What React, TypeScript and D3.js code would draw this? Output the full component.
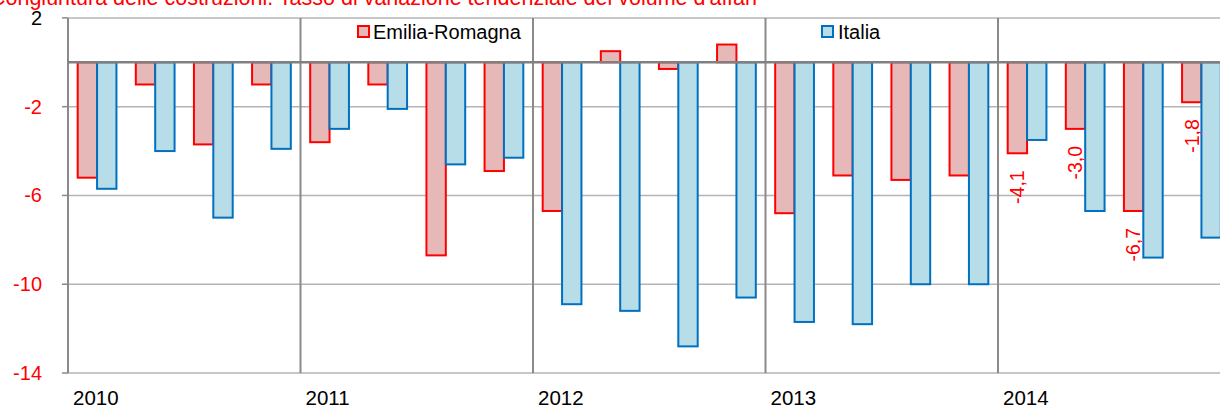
import React from "react";
import * as d3 from "d3";

const title = "Congiuntura delle costruzioni. Tasso di variazione tendenziale del volume d'affari";
const years = ["2010", "2011", "2012", "2013", "2014"];
const quarters = years.flatMap(y => ["I", "II", "III", "IV"].map(q => y + " " + q));
const seriesNames = ["Emilia-Romagna", "Italia"];
const emilia = [-5.2, -1.0, -3.7, -1.0, -3.6, -1.0, -8.7, -4.9, -6.7, 0.5, -0.3, 0.8, -6.8, -5.1, -5.3, -5.1, -4.1, -3.0, -6.7, -1.8];
const italia = [-5.7, -4.0, -7.0, -3.9, -3.0, -2.1, -4.6, -4.3, -10.9, -11.2, -12.8, -10.6, -11.7, -11.8, -10.0, -10.0, -3.5, -6.7, -8.8, -7.9];
// only the last four Emilia-Romagna values carry a label
const labelled = ["2014 I", "2014 II", "2014 III", "2014 IV"];
const yTicks = [2, -2, -6, -10, -14];

export default function App() {
    const width = 1220;
    const height = 407;
    const left = 68;
    const right = 1230.5;
    const top = 17.9;
    const bottom = 373;

    const font = "Arial, 'Liberation Sans', sans-serif";
    const erFill = "#e6b9b8", erStroke = "#ff0000";
    const itFill = "#b7dde8", itStroke = "#0070c0";

    const x = d3.scaleBand().domain(quarters).range([left, right]).paddingInner(1 / 3).paddingOuter(1 / 6);
    const xYear = d3.scaleBand().domain(years).range([left, right]);
    const y = d3.scaleLinear().domain([-14, 2]).range([bottom, top]);
    const bw = x.bandwidth() / 2;

    const bar = (v: number) => ({ y: Math.min(y(v), y(0)), h: Math.abs(y(v) - y(0)) });

    return (
        <div style={{ position: "absolute", left: 0, top: 0 }}>
            <svg width={width} height={height} style={{ display: "block" }} fontFamily={font}>
                <rect width={width} height={height} fill="#fff" />
                <text x={757} y={5} textAnchor="end" fontSize={21.5} fill="#ff0000">{title}</text>

                {/* horizontal gridlines */}
                {yTicks.map(t => (
                    <line key={"g" + t} x1={left} x2={right} y1={y(t)} y2={y(t)} stroke="#b4b4b4" strokeWidth={1.5} />
                ))}
                {/* year separators */}
                {years.slice(1).map(yr => (
                    <line key={"v" + yr} x1={xYear(yr)} x2={xYear(yr)} y1={top} y2={bottom} stroke="#8a8a8a" strokeWidth={2} />
                ))}
                <line x1={left} x2={left} y1={top} y2={bottom} stroke="#8a8a8a" strokeWidth={2} />
                {yTicks.map(t => (
                    <line key={"t" + t} x1={left - 6} x2={left} y1={y(t)} y2={y(t)} stroke="#8a8a8a" strokeWidth={1.5} />
                ))}
                {yTicks.map(t => (
                    <text key={"l" + t} x={42} y={y(t) + 7} textAnchor="end" fontSize={20} fill={t === 2 ? "#000" : "#ff0000"}>{t}</text>
                ))}

                {/* bars */}
                {quarters.map((q, i) => {
                    const a = bar(emilia[i]);
                    const b = bar(italia[i]);
                    const x0 = x(q) as number;
                    return (
                        <g key={q}>
                            <rect x={x0} y={a.y} width={bw} height={a.h} fill={erFill} stroke={erStroke} strokeWidth={2} />
                            <rect x={x0 + bw} y={b.y} width={bw} height={b.h} fill={itFill} stroke={itStroke} strokeWidth={2} />
                        </g>
                    );
                })}
                <line x1={left} x2={right} y1={y(0)} y2={y(0)} stroke="#808080" strokeWidth={2.5} />

                {/* data labels */}
                {quarters.map((q, i) => {
                    if (!labelled.includes(q)) return null;
                    const cx = (x(q) as number) + bw / 2;
                    const cy = y(emilia[i]) + 17;
                    return (
                        <text key={"d" + q} transform={`translate(${cx},${cy}) rotate(-90)`} textAnchor="end" dy="0.35em" fontSize={19.5} fill="#ff0000">
                            {emilia[i].toFixed(1).replace(".", ",")}
                        </text>
                    );
                })}

                {/* year labels */}
                {years.map(yr => (
                    <text key={"y" + yr} x={(xYear(yr) as number) + 5} y={404.5} fontSize={20.5} fill="#000">{yr}</text>
                ))}

                {/* legend */}
                <rect x={358} y={26} width={11} height={11} fill={erFill} stroke={erStroke} strokeWidth={2} />
                <text x={373} y={39} fontSize={20} fill="#000">{seriesNames[0]}</text>
                <rect x={822} y={26} width={11} height={11} fill={itFill} stroke={itStroke} strokeWidth={2} />
                <text x={838} y={39} fontSize={20} fill="#000">{seriesNames[1]}</text>
            </svg>
        </div>
    );
}
